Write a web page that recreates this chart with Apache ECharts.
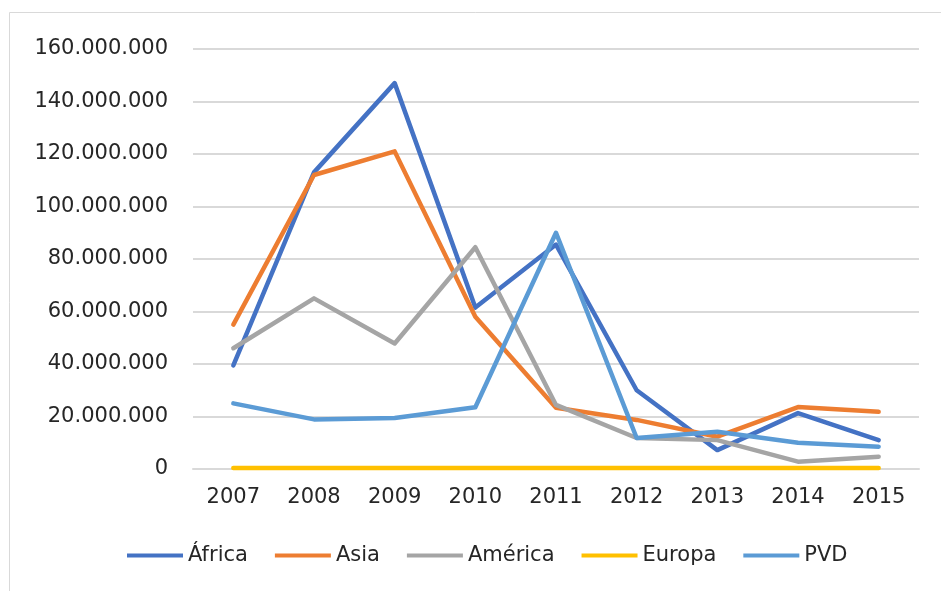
<!DOCTYPE html>
<html>
<head>
<meta charset="utf-8">
<script src="https://cdn.jsdelivr.net/npm/echarts@6/dist/echarts.min.js"></script>
<style>
  html, body { margin: 0; padding: 0; background: #ffffff; }
  #chart { width: 941px; height: 591px; }
</style>
</head>
<body>
<div id="chart"></div>
<script>
// Years on the category axis
const years = ['2007', '2008', '2009', '2010', '2011', '2012', '2013', '2014', '2015'];

// Yearly amounts per region
const africa  = [39500000, 113000000, 147000000, 61500000, 85500000, 30000000, 7200000, 21300000, 11000000];
const asia    = [55000000, 112000000, 121000000, 58000000, 23300000, 18700000, 12300000, 23600000, 21800000];
const america = [46000000, 65000000, 47800000, 84500000, 24400000, 11800000, 11000000, 2800000, 4700000];
const europa  = [400000, 400000, 400000, 400000, 400000, 400000, 400000, 400000, 400000];
const pvd     = [25000000, 18900000, 19400000, 23500000, 90000000, 11800000, 14200000, 10000000, 8500000];

// Value-axis range and step
const yMin = 0;
const yMax = 160000000;
const yStep = 20000000;

const seriesNames = ['África', 'Asia', 'América', 'Europa', 'PVD'];
const seriesData = [africa, asia, america, europa, pvd];
const seriesColors = ['#4472C4', '#ED7D31', '#A5A5A5', '#FFC000', '#5B9BD5'];

const fontFamily = '"DejaVu Sans", Verdana, sans-serif';
const textColor = '#262626';

function dotted(v) {
  return String(v).replace(/\B(?=(\d{3})+(?!\d))/g, '.');
}

const chart = echarts.init(document.getElementById('chart'), null, { renderer: 'canvas' });

chart.setOption({
  animation: false,
  backgroundColor: '#ffffff',
  textStyle: { fontFamily: fontFamily },
  graphic: [{
    type: 'rect',
    shape: { x: 9.5, y: 12.5, width: 960, height: 620 },
    style: { fill: 'none', stroke: '#d9d9d9', lineWidth: 1 },
    silent: true,
    z: -10
  }],
  grid: { left: 193, right: 22, top: 49, bottom: 122, containLabel: false },
  legend: {
    data: seriesNames,
    left: 122,
    top: 540,
    itemWidth: 56,
    itemHeight: 20,
    itemGap: 27,
    textStyle: { fontSize: 21, color: textColor, fontFamily: fontFamily },
    icon: 'path://M0,8 L56,8 L56,12 L0,12 Z'
  },
  xAxis: {
    type: 'category',
    data: years,
    boundaryGap: true,
    axisLine: { show: true, lineStyle: { color: '#d9d9d9', width: 2 } },
    axisTick: { show: false },
    axisLabel: { fontSize: 21, color: textColor, margin: 18, fontFamily: fontFamily }
  },
  yAxis: {
    type: 'value',
    min: yMin,
    max: yMax,
    interval: yStep,
    axisLine: { show: false },
    axisTick: { show: false },
    splitLine: { show: true, lineStyle: { color: '#d9d9d9', width: 2 } },
    axisLabel: { fontSize: 21, color: textColor, margin: 25, fontFamily: fontFamily, formatter: dotted }
  },
  series: seriesNames.map((name, i) => ({
    name: name,
    type: 'line',
    data: seriesData[i],
    symbol: 'none',
    color: seriesColors[i],
    lineStyle: { width: 4.5, color: seriesColors[i], join: 'round', cap: 'round' },
    z: 2 + i
  }))
});
</script>
</body>
</html>
